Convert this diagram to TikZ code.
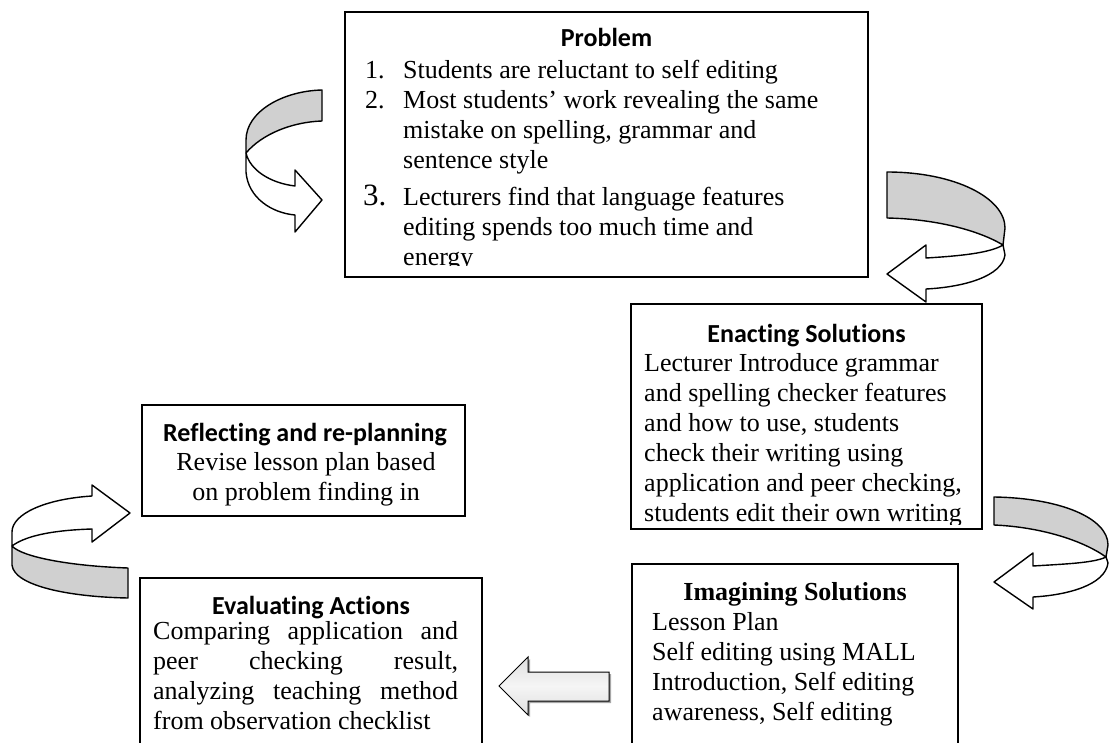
\documentclass[tikz,border=0pt]{standalone}
\usepackage{fontspec}
\setmainfont{Liberation Serif}
\newfontfamily\hfont[Ligatures=NoCommon]{Carlito}
\definecolor{bandgray}{RGB}{208,208,208}
\tikzset{
  box/.style={draw=black, line width=1.5pt, fill=white, inner sep=0pt, outer sep=0pt, rectangle},
  band/.style={draw=black, line width=1.4pt, line join=round},
  bodytext/.style={inner sep=0pt, anchor=base west, font=\fontsize{26}{30}\selectfont},
  headtext/.style={inner sep=0pt, anchor=base, font=\hfont\bfseries\fontsize{26}{30}\selectfont},
}
\begin{document}
\begin{tikzpicture}[x=1pt,y=-1pt]
\useasboundingbox (0,0) rectangle (1110,743);

% ---------- boxes ----------
\node[box, minimum width=523pt, minimum height=265pt] (prob) at (606.5,144.5) {};
\node[box, minimum width=351pt, minimum height=225pt] (enact) at (806.5,416.5) {};
\node[box, minimum width=323pt, minimum height=111pt] (refl) at (303.5,460.5) {};
\node[box, minimum width=342pt, minimum height=192pt] (eval) at (311,674) {};
\node[box, minimum width=326pt, minimum height=206pt] (imag) at (795,667) {};

% ---------- Problem ----------
\node[headtext] (probH) at (606.5,47) {Problem};
\begin{scope}
\clip (346,13) rectangle (867,265);
\node[bodytext] (n1) at (365,79) {1.};
\node[bodytext] (i1) at (403,79) {Students are reluctant to self editing};
\node[bodytext] (n2) at (365,109) {2.};
\node[bodytext] (i2) at (403,109) {\parbox[t]{440pt}{Most students’ work revealing the same\\ mistake on spelling, grammar and\\ sentence style}};
\node[bodytext, font=\fontsize{31}{30}\selectfont] (n3) at (363,206) {3.};
\node[bodytext] (i3) at (403,206) {\parbox[t]{440pt}{Lecturers find that language features\\ editing spends too much time and\\ energy}};
\end{scope}

% ---------- Enacting ----------
\node[headtext] (enH) at (806.5,342) {Enacting Solutions};
\begin{scope}
\clip (632,305) rectangle (981,524);
\node[bodytext] (enT) at (644,371) {\parbox[t]{330pt}{Lecturer Introduce grammar\\ and spelling checker features\\ and how to use, students\\ check their writing using\\ application and peer checking,\\ students edit their own writing}};
\end{scope}

% ---------- Reflecting ----------
\node[headtext] (reH) at (305,441) {Reflecting and re-planning};
\node[inner sep=0pt, anchor=base, font=\fontsize{26}{30}\selectfont] (reT1) at (306,470) {Revise lesson plan based};
\node[inner sep=0pt, anchor=base, font=\fontsize{26}{30}\selectfont] (reT2) at (306,500) {on problem finding in};

% ---------- Evaluating ----------
\node[headtext] (evH) at (311,614) {Evaluating Actions};
\node[bodytext] (ev1) at (153,639) {\hbox to 305pt{Comparing\hfill application\hfill and}};
\node[bodytext] (ev2) at (153,669) {\hbox to 305pt{peer\hfill checking\hfill result,}};
\node[bodytext] (ev3) at (153,699) {\hbox to 305pt{analyzing\hfill teaching\hfill method}};
\node[bodytext] (ev4) at (153,729) {from observation checklist};

% ---------- Imagining ----------
\node[inner sep=0pt, anchor=base, font=\bfseries\fontsize{26}{30}\selectfont] (imH) at (795,600) {Imagining Solutions};
\node[bodytext] (imT) at (652,630) {\parbox[t]{300pt}{Lesson Plan\\ Self editing using MALL\\ Introduction, Self editing\\ awareness, Self editing}};

% ---------- curved arrow A (top left) ----------
\filldraw[band, fill=bandgray] (322,90) .. controls (282,91) and (246,112) .. (246,140) -- (246,153) .. controls (262,134) and (292,122) .. (322,121) -- cycle;
\filldraw[band, fill=white] (246,153) -- (246,172) .. controls (248,198) and (272,213) .. (295,215) -- (295,232) -- (322,200) -- (295,170) -- (295,186) .. controls (270,183) and (250,170) .. (246,153) -- cycle;

% ---------- curved arrow B (top right) ----------
\filldraw[band, fill=bandgray] (887,172) .. controls (955,172) and (1005,198) .. (1005,228) -- (1003,245) .. controls (978,230) and (935,219) .. (887,218) -- cycle;
\filldraw[band, fill=white] (1003,245) -- (1005,255) .. controls (1002,276) and (965,287) .. (926,289) -- (926,302) -- (887,274) -- (926,245) -- (926,258) .. controls (960,256) and (990,253) .. (1003,245) -- cycle;

% ---------- curved arrow C (middle right) ----------
\filldraw[band, fill=bandgray] (994,497) .. controls (1060,498) and (1108,518) .. (1108,545) -- (1106,557) .. controls (1082,540) and (1040,527) .. (994,525) -- cycle;
\filldraw[band, fill=white] (1106,557) -- (1108,563) .. controls (1105,585) and (1068,595) .. (1033,597) -- (1033,609) -- (994,582) -- (1033,553) -- (1033,566) .. controls (1065,564) and (1094,563) .. (1106,557) -- cycle;

% ---------- curved arrow D (bottom left) ----------
\filldraw[band, fill=bandgray] (128,568) .. controls (70,566) and (22,557) .. (12,546) -- (12,565) .. controls (14,586) and (70,597) .. (128,598) -- cycle;
\filldraw[band, fill=white] (92,496) .. controls (45,499) and (12,514) .. (12,532) -- (12,546) .. controls (28,534) and (60,530) .. (92,529) -- (92,542) -- (130,513) -- (92,485) -- cycle;

% ---------- block arrow E (left) ----------
\fill[gray!70] (611,674) -- (530,674) -- (530,659) -- (501,688) -- (530,717) -- (530,703) -- (611,703) -- cycle;
\shade[top color=gray!25, bottom color=gray!25, middle color=gray!8] (609,672) -- (528,672) -- (528,657) -- (499,686) -- (528,715) -- (528,701) -- (609,701) -- cycle;
\draw[line width=1pt, line join=miter] (609,672) -- (528,672) -- (528,657) -- (499,686) -- (528,715) -- (528,701) -- (609,701) -- cycle;
\end{tikzpicture}
\end{document}
